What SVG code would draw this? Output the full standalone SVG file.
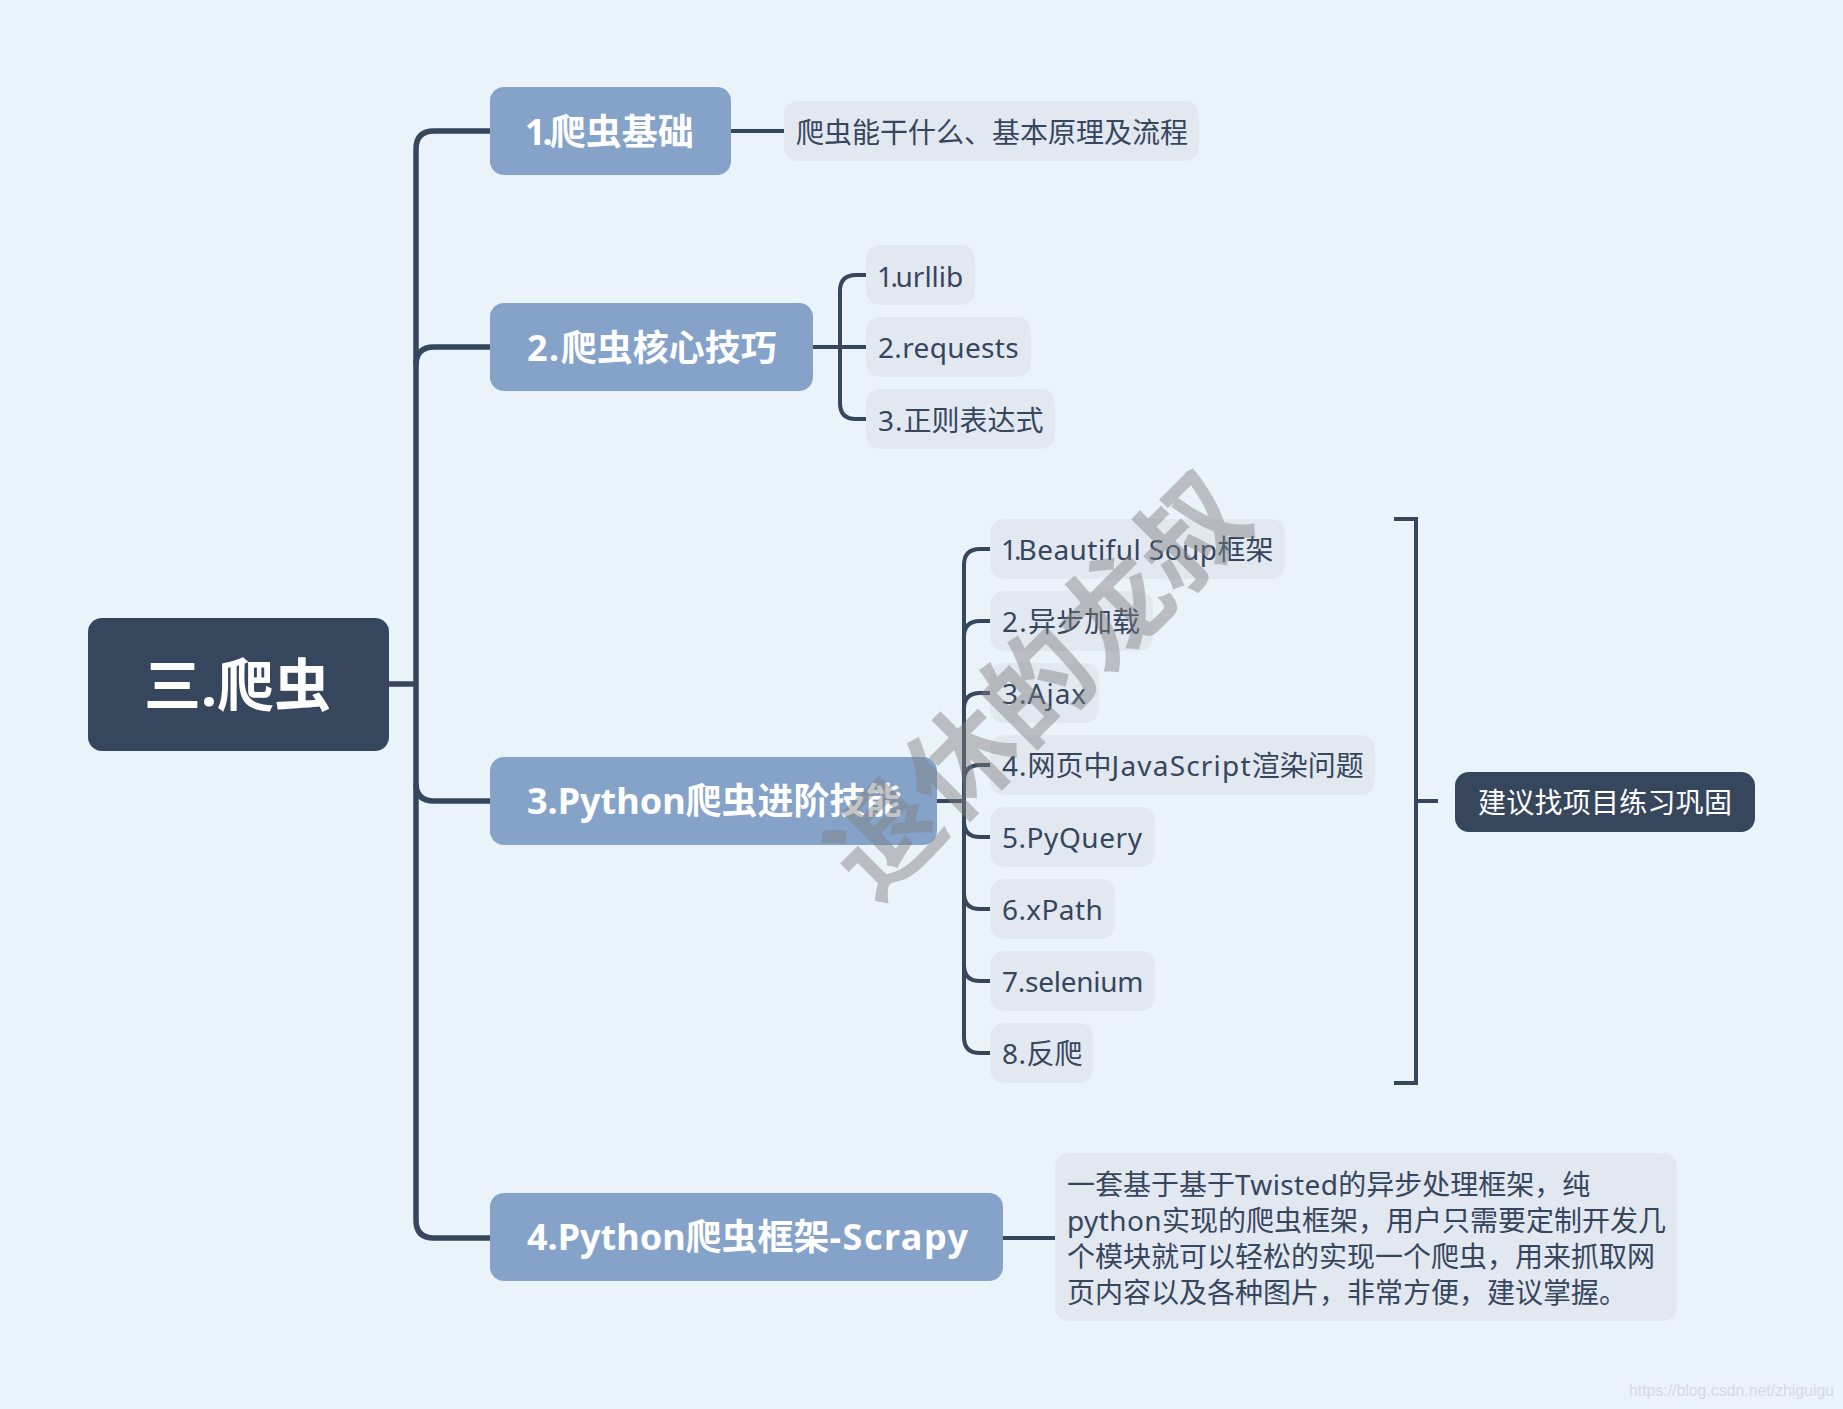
<svg xmlns="http://www.w3.org/2000/svg" width="1843" height="1409" viewBox="0 0 1843 1409">
<style>
text{font-family:"Noto Sans","Noto Sans CJK SC",sans-serif}
.root{fill:#36465d}
.main{fill:#85a2c9}
.leaf{fill:#e2e8f0}
.rt{fill:#fff;font-size:57px;font-weight:700}
.mt{fill:#fff;font-size:36px;font-weight:700}
.lt{fill:#36465d;font-size:28px}
.st{fill:#fff;font-size:28px;letter-spacing:.25px}
.c{fill:none;stroke:#36465d;stroke-linecap:butt}
.c1{stroke-width:5.5}
.c2{stroke-width:4}
.wm{fill:#7f7f7f;fill-opacity:.45;font-size:108px;font-weight:700;font-family:"Noto Sans CJK SC",sans-serif}
.url{fill:#d2d7dc;fill-opacity:.9;font-size:16px;font-family:"Liberation Sans",Arial,sans-serif}
</style>
<rect width="1843" height="1409" fill="#ebf3fa"/>
<g id="connectors">
<path class="c c1" d="M389 684H416"/>
<path class="c c1" d="M490 131H434Q416 131 416 149V1220Q416 1238 434 1238H490"/>
<path class="c c1" d="M416 365Q416 347 434 347H490"/>
<path class="c c1" d="M416 783Q416 801 434 801H490"/>
<path class="c c2" d="M731 131H785"/>
<path class="c c2" d="M813 347H866"/>
<path class="c c2" d="M866 275H856Q840 275 840 291V403Q840 419 856 419H866"/>
<path class="c c2" d="M937 801H964"/>
<path class="c c2" d="M990 549H980Q964 549 964 565V1037Q964 1053 980 1053H990"/>
<path class="c c2" d="M964 637Q964 621 980 621H990"/>
<path class="c c2" d="M964 709Q964 693 980 693H990"/>
<path class="c c2" d="M964 781Q964 765 980 765H990"/>
<path class="c c2" d="M964 821Q964 837 980 837H990"/>
<path class="c c2" d="M964 893Q964 909 980 909H990"/>
<path class="c c2" d="M964 965Q964 981 980 981H990"/>
<path class="c c2" d="M1003 1238H1055"/>
<path class="c c2" d="M1394 519H1416V1083H1394"/>
<path class="c c2" d="M1416 801H1438"/>
</g>
<g id="root"><rect class="root" x="88" y="618" width="301" height="133" rx="14"/><text class="rt" x="144" y="706">三.爬虫</text></g>
<g id="n1"><rect class="main" x="490" y="87" width="241" height="88" rx="14"/><text class="mt" x="525" y="145"><tspan letter-spacing="-3">1.</tspan>爬虫基础</text></g>
<g id="n1a"><rect class="leaf" x="784" y="101" width="415" height="60" rx="14"/><text class="lt" x="796" y="143">爬虫能干什么、基本原理及流程</text></g>
<g id="n2"><rect class="main" x="490" y="303" width="323" height="88" rx="14"/><text class="mt" x="527" y="361"><tspan letter-spacing="1.5">2.</tspan>爬虫核心技巧</text></g>
<g id="n2a"><rect class="leaf" x="866" y="245" width="109" height="60" rx="14"/><text class="lt" x="877" y="287"><tspan letter-spacing="-2.5">1.</tspan>urllib</text></g>
<g id="n2b"><rect class="leaf" x="866" y="317" width="165" height="60" rx="14"/><text class="lt" x="878" y="358" letter-spacing=".35">2.requests</text></g>
<g id="n2c"><rect class="leaf" x="866" y="389" width="189" height="60" rx="14"/><text class="lt" x="878" y="431"><tspan letter-spacing="1">3.</tspan>正则表达式</text></g>
<g id="n3"><rect class="main" x="490" y="757" width="447" height="88" rx="14"/><text class="mt" x="527" y="814">3.Python爬虫进阶技能</text></g>
<g id="n3a"><rect class="leaf" x="990" y="519" width="295" height="60" rx="14"/><text class="lt" x="1001" y="560"><tspan letter-spacing="-3">1.</tspan><tspan letter-spacing=".45">Beautiful Soup</tspan>框架</text></g>
<g id="n3b"><rect class="leaf" x="990" y="591" width="163" height="60" rx="14"/><text class="lt" x="1002" y="632"><tspan letter-spacing="1.25">2.</tspan>异步加载</text></g>
<g id="n3c"><rect class="leaf" x="990" y="663" width="109" height="60" rx="14"/><text class="lt" x="1002" y="704" letter-spacing="1">3.Ajax</text></g>
<g id="n3d"><rect class="leaf" x="990" y="735" width="385" height="60" rx="14"/><text class="lt" x="1002" y="776"><tspan letter-spacing="1">4.</tspan>网页中<tspan letter-spacing="1.2">JavaScript</tspan>渲染问题</text></g>
<g id="n3e"><rect class="leaf" x="990" y="807" width="165" height="60" rx="14"/><text class="lt" x="1002" y="848" letter-spacing=".55">5.PyQuery</text></g>
<g id="n3f"><rect class="leaf" x="990" y="879" width="125" height="60" rx="14"/><text class="lt" x="1002" y="920" letter-spacing=".4">6.xPath</text></g>
<g id="n3g"><rect class="leaf" x="990" y="951" width="165" height="60" rx="14"/><text class="lt" x="1002" y="992" letter-spacing="-.25">7.selenium</text></g>
<g id="n3h"><rect class="leaf" x="990" y="1023" width="103" height="60" rx="14"/><text class="lt" x="1002" y="1064"><tspan letter-spacing=".5">8.</tspan>反爬</text></g>
<g id="summary"><rect class="root" x="1455" y="772" width="300" height="60" rx="14"/><text class="st" x="1478" y="813">建议找项目练习巩固</text></g>
<g id="n4"><rect class="main" x="490" y="1193" width="513" height="88" rx="14"/><text class="mt" x="527" y="1250">4.Python爬虫框架<tspan letter-spacing="1.5">-Scrapy</tspan></text></g>
<g id="n4a"><rect class="leaf" x="1055" y="1153" width="622" height="168" rx="14"/>
<text class="lt" x="1067" y="1195">一套基于基于<tspan letter-spacing=".35">Twisted</tspan>的异步处理框架，纯</text>
<text class="lt" x="1067" y="1231"><tspan letter-spacing=".4">python</tspan>实现的爬虫框架，用户只需要定制开发几</text>
<text class="lt" x="1067" y="1267">个模块就可以轻松的实现一个爬虫，用来抓取网</text>
<text class="lt" x="1067" y="1303">页内容以及各种图片，非常方便，建议掌握。</text></g>
<text class="wm" transform="translate(1040 688) rotate(-45)" text-anchor="middle" y="36">退休的龙叔</text>
<text class="url" x="1629" y="1396" textLength="205" lengthAdjust="spacingAndGlyphs">https://blog.csdn.net/zhiguigu</text>
</svg>
